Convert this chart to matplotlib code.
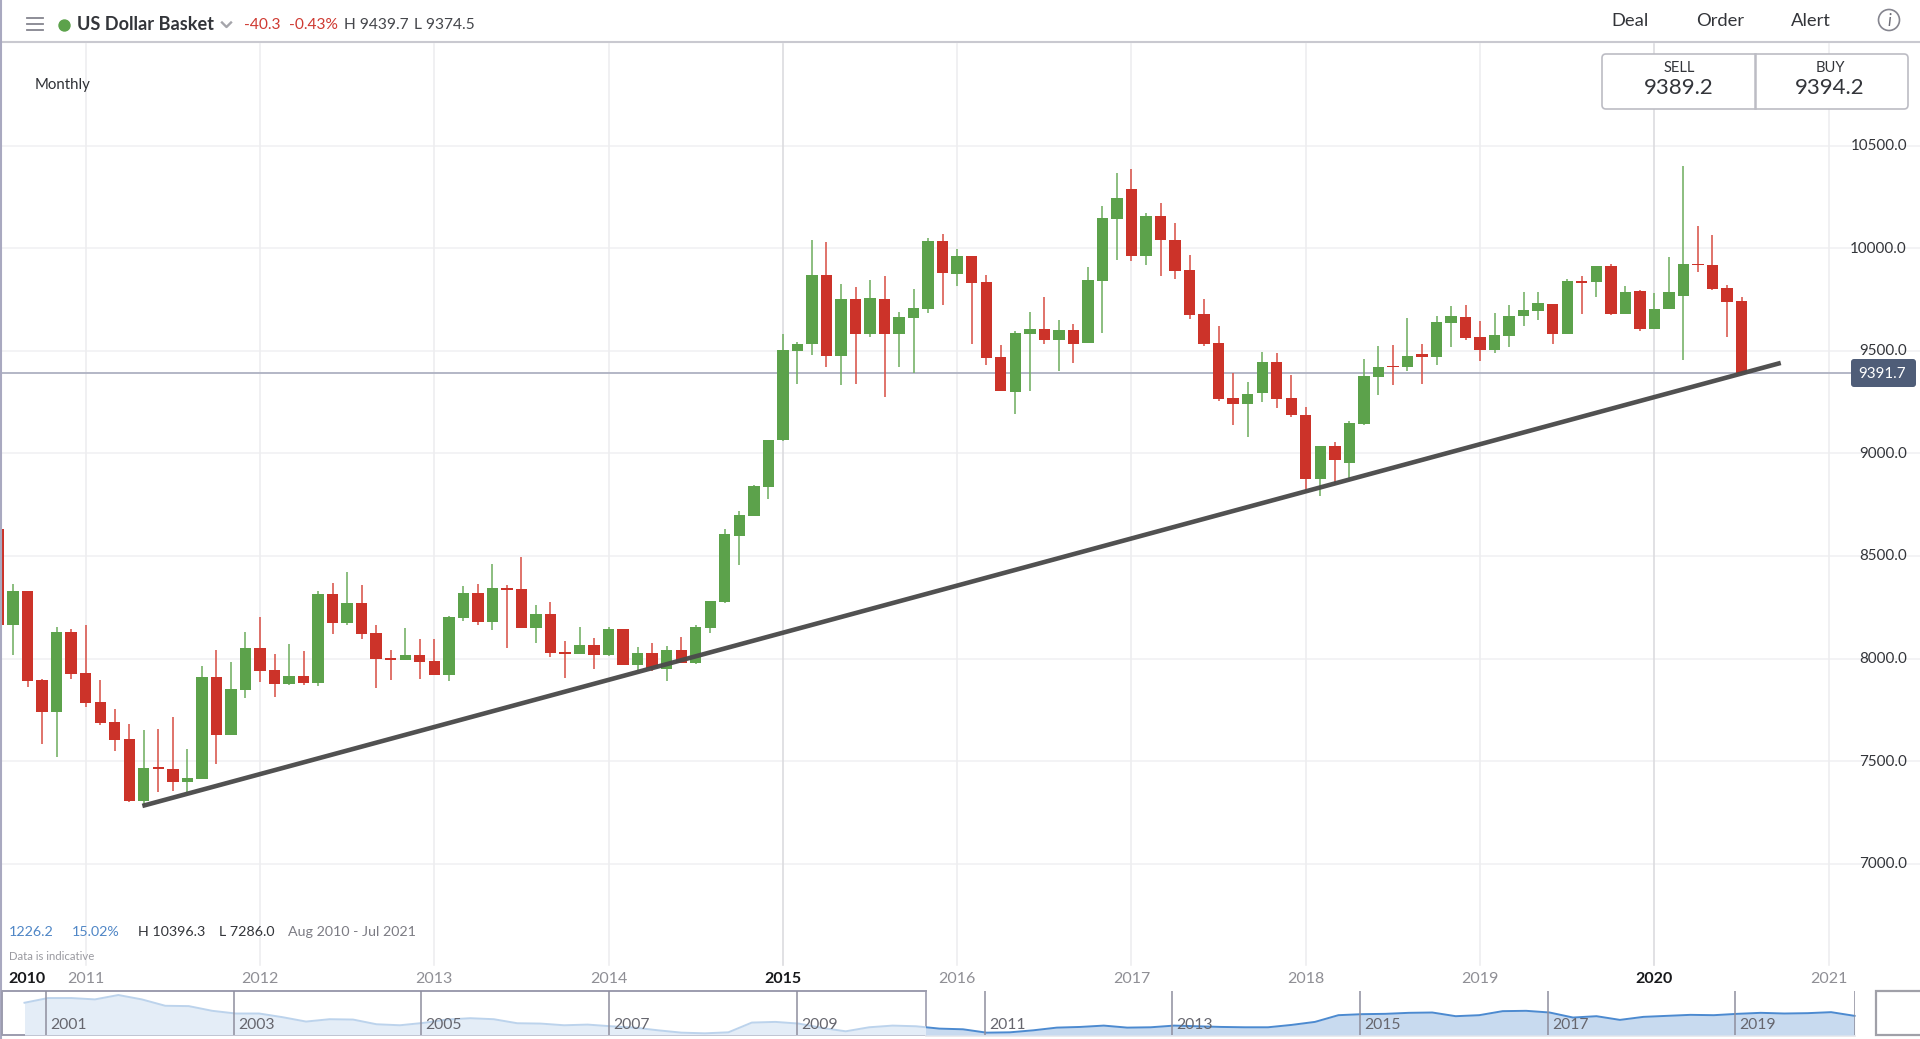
import numpy as np
import pandas as pd
import matplotlib
matplotlib.use('Agg')
import matplotlib.pyplot as plt
from matplotlib.patches import Rectangle, FancyBboxPatch, Circle

plt.rcParams['font.family'] = ['Lato', 'DejaVu Sans']

# monthly candles, Jul 2010 to Jul 2020
months = pd.date_range('2010-07-01', periods=121, freq='MS')
opens = [8634, 8164, 8327, 7895, 7742, 8128, 7930, 7788, 7693, 7607, 7305, 7470,
         7463, 7398, 7413, 7908, 7626, 7846, 8053, 7943, 7876, 7915, 7881, 8316,
         8172, 8273, 8123, 8004, 7995, 8018, 7988, 7920, 8197, 8319, 8179, 8344,
         8340, 8151, 8216, 8034, 8024, 8066, 8016, 8142, 7969, 8028, 7949, 8042,
         7977, 8150, 8276, 8598, 8694, 8835, 9063, 9498, 9531, 9871, 9475, 9754,
         9581, 9754, 9581, 9659, 9703, 10033, 9876, 9963, 9834, 9472, 9301, 9583,
         9604, 9552, 9599, 9539, 9840, 10140, 10290, 9964, 10158, 10041, 9896, 9681,
         9539, 9270, 9239, 9293, 9446, 9270, 9185, 8875, 9037, 8954, 9141, 9372,
         9428, 9420, 9482, 9472, 9635, 9663, 9565, 9506, 9573, 9669, 9695, 9726,
         9583, 9842, 9837, 9912, 9681, 9790, 9606, 9703, 9767, 9925, 9920, 9806,
         9742]
highs = [8634, 8363, 8327, 7900, 8153, 8143, 8163, 7895, 7752, 7683, 7651, 7656,
         7714, 7561, 7962, 8042, 7985, 8130, 8203, 8022, 8070, 8035, 8329, 8366,
         8423, 8360, 8166, 8042, 8150, 8094, 8097, 8207, 8352, 8365, 8459, 8360,
         8497, 8260, 8277, 8086, 8156, 8101, 8153, 8142, 8057, 8076, 8062, 8106,
         8164, 8282, 8634, 8719, 8848, 9065, 9584, 9544, 10041, 10029, 9824, 9813,
         9845, 9863, 9690, 9803, 10049, 10068, 9995, 9964, 9871, 9526, 9597, 9689,
         9764, 9648, 9630, 9907, 10207, 10367, 10385, 10171, 10222, 10124, 9966, 9752,
         9623, 9394, 9346, 9495, 9491, 9384, 9227, 9038, 9055, 9157, 9460, 9521,
         9529, 9661, 9534, 9671, 9716, 9721, 9645, 9685, 9723, 9785, 9788, 9729,
         9848, 9863, 9914, 9925, 9814, 9795, 9783, 9956, 10399, 10106, 10064, 9822,
         9764]
lows = [8164, 8018, 7863, 7586, 7520, 7902, 7765, 7677, 7550, 7299, 7282, 7349,
        7357, 7349, 7413, 7484, 7626, 7806, 7885, 7811, 7869, 7869, 7868, 8122,
        8166, 8096, 7859, 7895, 7993, 7900, 7918, 7890, 8184, 8166, 8137, 8050,
        8148, 8078, 8009, 7907, 8022, 7949, 8014, 7967, 7944, 7939, 7892, 7977,
        7975, 8127, 8269, 8456, 8694, 8776, 9061, 9340, 9478, 9421, 9332, 9340,
        9568, 9275, 9420, 9392, 9684, 9723, 9816, 9535, 9433, 9304, 9193, 9302,
        9532, 9403, 9439, 9539, 9586, 9941, 9938, 9917, 9865, 9852, 9656, 9521,
        9255, 9138, 9081, 9250, 9219, 9177, 8810, 8794, 8851, 8879, 9139, 9283,
        9335, 9402, 9337, 9433, 9518, 9552, 9452, 9487, 9518, 9623, 9650, 9535,
        9583, 9677, 9760, 9674, 9679, 9597, 9606, 9702, 9456, 9883, 9796, 9566,
        9389]
closes = [8164, 8327, 7890, 7742, 8128, 7926, 7783, 7687, 7604, 7305, 7468, 7460,
          7398, 7416, 7908, 7626, 7850, 8053, 7939, 7876, 7915, 7881, 8316, 8172,
          8273, 8119, 8000, 7995, 8018, 7983, 7920, 8202, 8319, 8177, 8342, 8334,
          8151, 8216, 8029, 8024, 8066, 8016, 8142, 7969, 8026, 7952, 8042, 7977,
          8154, 8280, 8608, 8699, 8842, 9065, 9503, 9535, 9871, 9474, 9754, 9581,
          9756, 9581, 9664, 9708, 10033, 9879, 9961, 9830, 9467, 9304, 9589, 9604,
          9552, 9599, 9535, 9845, 10145, 10243, 9964, 10158, 10039, 9891, 9674, 9534,
          9265, 9239, 9291, 9446, 9267, 9188, 8875, 9037, 8967, 9146, 9376, 9420,
          9420, 9475, 9472, 9638, 9671, 9562, 9506, 9578, 9672, 9700, 9733, 9583,
          9842, 9832, 9912, 9679, 9786, 9604, 9705, 9786, 9923, 9917, 9803, 9738,
          9392]

price_ticks = [7000, 7500, 8000, 8500, 9000, 9500, 10000, 10500]
years = [2011, 2012, 2013, 2014, 2015, 2016, 2017, 2018, 2019, 2020, 2021]
bold_years = [2015, 2020]
last_price = 9391.7

# trend line end points (month index, price)
trend_x = [9.9, 122.7]
trend_y = [7282, 9441]

# navigator: quarterly history from late 2000
nav_values = [11150, 11738, 11738, 11570, 12116, 11570, 10772, 10730, 10142, 9806,
              9806, 9344, 8798, 9092, 9050, 8462, 8336, 8630, 9050, 9218,
              9092, 8588, 8546, 8336, 8420, 8210, 8042, 7706, 7412, 7328,
              7454, 8672, 8756, 8546, 8000, 7580, 8084, 8294, 8210, 7916,
              7832, 7412, 7454, 7706, 8042, 8126, 8294, 8042, 8084, 8294,
              8210, 8126, 8084, 8084, 8378, 8756, 9596, 9722, 9764, 9890,
              9932, 9470, 9596, 10100, 10142, 9932, 9302, 9470, 9008, 9386,
              9512, 9638, 9596, 9764, 9890, 9806, 9848, 9974, 9512]
nav_ticks = [2001, 2003, 2005, 2007, 2009, 2011, 2013, 2015, 2017, 2019]

W, H = 1920, 1039
PX_PER_UNIT = 0.2052
Y_9000 = 453.4
fig = plt.figure(figsize=(W / 100, H / 100), dpi=100, facecolor='white')

# main chart fills the whole figure, limits set so the grid lands in the right place
ax = fig.add_axes([0, 0, 1, 1])
ax.set_xlim(0.1, 0.1 + W / 14.525)
ax.set_ylim(9000 - (H - Y_9000) / PX_PER_UNIT, 9000 + Y_9000 / PX_PER_UNIT)
ax.axis('off')

grid_top = 1 - 42 / H
grid_bot = 1 - 965 / H
for y in price_ticks:
    ax.axhline(y, color='#f1f1f3', lw=1.2, zorder=1)
x_year = {y: months.get_loc(pd.Timestamp(y, 1, 1)) if y < 2021 else 126 for y in years}
for y in years:
    col = '#dcdcdf' if y in bold_years else '#eeeef0'
    ax.plot([x_year[y]] * 2, [grid_bot, grid_top], color=col, lw=1.2, zorder=1,
            transform=ax.get_xaxis_transform())
ax.axhline(last_price, xmax=1851 / W, color='#aeb1c2', lw=1.3, zorder=2)

x = np.arange(len(months))
opens = np.array(opens)
closes = np.array(closes)
up = closes >= opens
body_w = 0.785
ax.vlines(x[up], np.array(lows)[up], np.array(highs)[up], color='#72b063', lw=1.15, zorder=3)
ax.vlines(x[~up], np.array(lows)[~up], np.array(highs)[~up], color='#d9544a', lw=1.15, zorder=3)
ax.bar(x[up], (closes - opens)[up], bottom=opens[up], width=body_w, color='#5ca24b', zorder=4)
ax.bar(x[~up], (closes - opens)[~up], bottom=opens[~up], width=body_w, color='#cc3329', zorder=4)
ax.plot(trend_x, trend_y, color='#4b4b4b', lw=3.3, alpha=0.97, zorder=5, solid_capstyle='butt')

# everything around the chart, in pixel coordinates
ui = fig.add_axes([0, 0, 1, 1], zorder=5)
ui.set_xlim(0, W)
ui.set_ylim(H, 0)
ui.axis('off')
ui.patch.set_alpha(0)

ui.add_patch(Rectangle((0, 0), W, 42, color='white', zorder=1))
ui.plot([0, W], [42, 42], color='#c9c9d0', lw=1.5)
ui.plot([1, 1], [0, H], color='#a9a9c0', lw=1.5)

for yy in [18, 24, 30]:
    ui.plot([27, 43], [yy, yy], color='#85858f', lw=1.3)
ui.add_patch(Circle((64.5, 25.5), 5.5, color='#5ca24b'))
ui.text(77, 25, 'US Dollar Basket', fontsize=13.1, weight='bold', color='#33353a', va='center')
ui.plot([222, 226.5, 231], [22.5, 27, 22.5], color='#a5a5ab', lw=1.7)
ui.text(244, 25, '-40.3', fontsize=11.2, color='#cf3a32', va='center')
ui.text(289, 25, '-0.43%', fontsize=11.2, color='#cf3a32', va='center')
ui.text(344, 25, 'H 9439.7', fontsize=11.2, color='#45474c', va='center')
ui.text(414, 25, 'L 9374.5', fontsize=11.2, color='#45474c', va='center')
ui.text(35, 84.5, 'Monthly', fontsize=10.8, color='#2e3035', va='center')

for label, xx in [('Deal', 1630), ('Order', 1720.5), ('Alert', 1810.5)]:
    ui.text(xx, 21, label, fontsize=13.2, color='#33353a', ha='center', va='center')
ui.add_patch(Circle((1889, 20), 10.5, fc='white', ec='#85858f', lw=1.2))
ui.text(1889, 20.5, 'i', fontsize=12, style='italic', color='#6c6c76', ha='center', va='center')

# sell / buy box
ui.add_patch(FancyBboxPatch((1604, 56), 302, 51, boxstyle='round,pad=2,rounding_size=4',
                            fc='white', ec='#bcbcc4', lw=1.2))
ui.plot([1755, 1755], [54, 108], color='#bcbcc4', lw=1.8)
ui.text(1679, 67.5, 'SELL', fontsize=10.6, color='#33353a', ha='center', va='center')
ui.text(1679, 88, '9389.2', fontsize=16, color='#33353a', ha='center', va='center')
ui.text(1830, 67.5, 'BUY', fontsize=10.6, color='#33353a', ha='center', va='center')
ui.text(1830, 88, '9394.2', fontsize=16, color='#33353a', ha='center', va='center')

# price labels
for y in price_ticks:
    py = Y_9000 + (9000 - y) * PX_PER_UNIT
    ui.text(1907, py + 0.5, f'{y:.1f}', fontsize=10.9, color='#33353a', ha='right', va='center')
ui.add_patch(FancyBboxPatch((1853, 361), 61, 24, boxstyle='round,pad=2,rounding_size=3',
                            fc='#4f5d78', ec='none'))
ui.text(1882.5, 374, f'{last_price:.1f}', fontsize=10.9, color='white', ha='center', va='center')

# range summary
ui.text(9, 932, '1226.2', fontsize=10.3, color='#4f86c6', va='center')
ui.text(72, 932, '15.02%', fontsize=10.3, color='#4f86c6', va='center')
ui.text(138, 932, 'H 10396.3', fontsize=10.3, color='#33353a', va='center')
ui.text(219, 932, 'L 7286.0', fontsize=10.3, color='#33353a', va='center')
ui.text(288, 932, 'Aug 2010 - Jul 2021', fontsize=10.3, color='#7c7c84', va='center')
ui.text(9, 956, 'Data is indicative', fontsize=8.2, color='#9a9aa0', va='center')

# year labels
ui.text(27, 979, '2010', fontsize=11.5, weight='bold', color='#17181b', ha='center', va='center')
for y in years:
    px = (x_year[y] - 0.1) * 14.525
    if y in bold_years:
        ui.text(px, 979, str(y), fontsize=11.5, weight='bold', color='#17181b', ha='center', va='center')
    else:
        ui.text(px, 979, str(y), fontsize=11.5, color='#8f8f95', ha='center', va='center')

# navigator
nav = fig.add_axes([24.5 / W, 1 - 1035 / H, (1854.7 - 24.5) / W, 44 / H], zorder=6)
nav_x = 2000.77 + 0.25 * np.arange(len(nav_values))
nav.set_xlim(2000.77, 2000.77 + (1854.7 - 24.5) / 93.85)
nav.set_ylim(7118, 12620)
nav.axis('off')
split = 2000.77 + (926 - 24.5) / 93.85
right_part = Rectangle((split, 7118), 30, 6000, transform=nav.transData)
left_part = Rectangle((2000, 7118), split - 2000, 6000, transform=nav.transData)
a1 = nav.fill_between(nav_x, nav_values, 7118, color='#e4edf7', lw=0)
l1, = nav.plot(nav_x, nav_values, color='#bcd3ec', lw=1.4)
a2 = nav.fill_between(nav_x, nav_values, 7118, color='#c8daef', lw=0)
l2, = nav.plot(nav_x, nav_values, color='#4c8ad0', lw=1.4)
a1.set_clip_path(left_part)
l1.set_clip_path(left_part)
a2.set_clip_path(right_part)
l2.set_clip_path(right_part)
for t in nav_ticks + [nav.get_xlim()[0], nav.get_xlim()[1]]:
    nav.axvline(t, color='#8e8e9e', lw=1.1)
for t in nav_ticks:
    nav.annotate(str(t), (t, 0), xycoords=nav.get_xaxis_transform(), xytext=(3, 4.5),
                 textcoords='offset points', fontsize=11.3, color='#66666e')

ui.plot([926, 2, 2, 926], [991, 991, 1035, 1035], color='#9c9cae', lw=1.4)
ui.plot([926, 926], [991, 1035], color='#9c9cae', lw=1.2)
ui.plot([926, 1855], [1035.5, 1035.5], color='#e6e6ea', lw=1.2)
ui.add_patch(Rectangle((1876, 991), 50, 44, fc='white', ec='#a0a0a8', lw=1.6))

fig.savefig('out.png', dpi=100)
